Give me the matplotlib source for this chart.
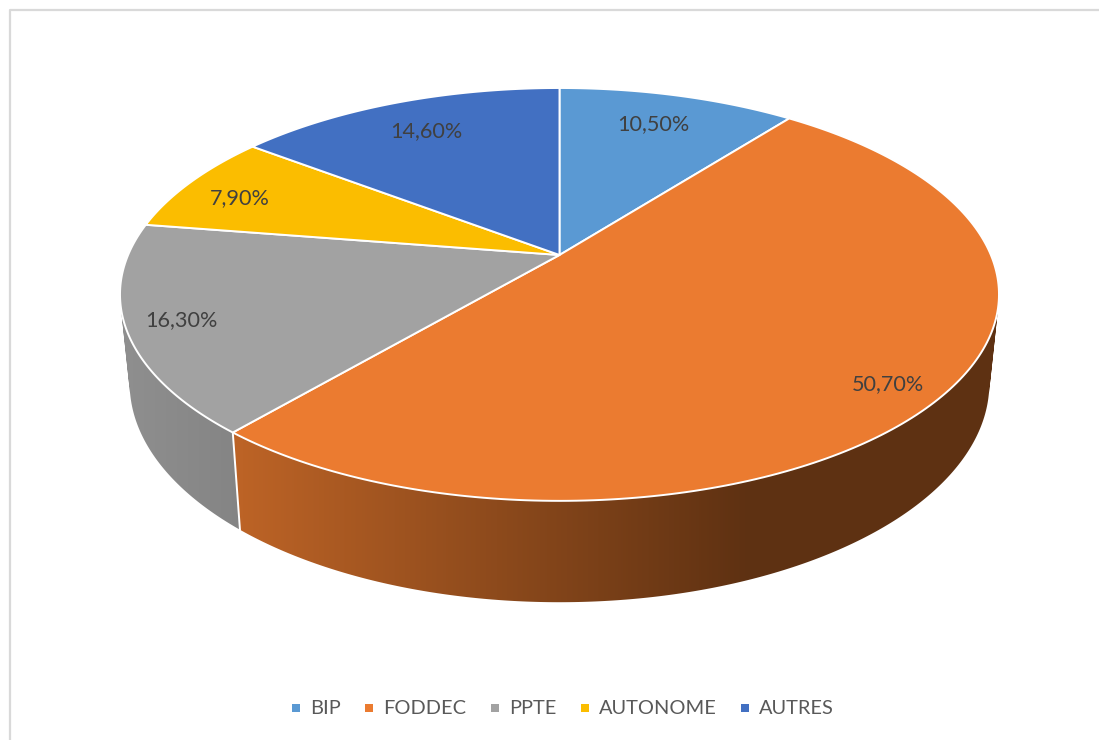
import numpy as np
import matplotlib
matplotlib.use("Agg")
from matplotlib import pyplot as plt
from matplotlib.colors import to_rgb
from matplotlib.lines import Line2D
from matplotlib.patches import PathPatch, Polygon
from matplotlib.path import Path

categories = ["BIP", "FODDEC", "PPTE", "AUTONOME", "AUTRES"]
shares = [10.5, 50.7, 16.3, 7.9, 14.6]
colors = ["#5A99D3", "#EB7B30", "#A2A2A2", "#FBBD00", "#4270C2"]
side_left = ["#3F6C95", "#BC6326", "#8F8F8F", "#B38600", "#2F5089"]
side_right = ["#3F6C95", "#5E3112", "#848484", "#B38600", "#2F5089"]
label_radius = [0.79, 0.89, 0.88, 0.84, 0.79]
label_turn = [-0.6, 1.4, 0.0, -2.2, 0.0]

plt.rcParams["font.family"] = ["Lato", "DejaVu Sans"]

# perspective of the 3d pie, in pixels
apex_x, apex_y = 559.5, 255
scale_x, scale_y, tilt = 431.4, 198.9, 0.191
depth_scale_x, depth_scale_y, depth_y = 0.978, 1.06, 341.6


def project(angle, radius=1.0):
    x = radius * np.sin(angle)
    y = radius * np.cos(angle)
    w = 1 + tilt * y
    return apex_x + scale_x * x / w, apex_y - scale_y * y / w


def project_bottom(angle):
    x, y = project(angle)
    return apex_x + depth_scale_x * (x - apex_x), depth_y + depth_scale_y * (y - apex_y)


def side_path(start, end):
    # swept side as many small quads, all wound the same way so they add up
    steps = np.linspace(start, end, int((end - start) * 120) + 2)
    parts = []
    for a0, a1 in zip(steps[:-1], steps[1:]):
        quad = np.array([project(a0), project(a1), project_bottom(a1), project_bottom(a0)])
        xs, ys = quad[:, 0], quad[:, 1]
        area = np.dot(xs, np.roll(ys, -1)) - np.dot(ys, np.roll(xs, -1))
        if area < 0:
            quad = quad[::-1]
        parts.append(Path(np.vstack([quad, quad[:1]]), closed=True))
    return Path.make_compound_path(*parts)


fig = plt.figure(figsize=(10.99, 7.40), dpi=100)
ax = fig.add_axes([0, 0, 1, 1])
ax.set_xlim(0, 1099)
ax.set_ylim(740, 0)
ax.axis("off")

# chart frame, only left and top are in the crop
ax.plot([9.5, 9.5, 1099], [740, 10, 10], color="#D9D9D9", lw=1.6, zorder=1)

edges = np.cumsum([0] + shares) / sum(shares) * 2 * np.pi
pixel_x = np.arange(1099) + 0.5

# sides first, the top face covers whatever is behind it
for i in range(len(shares)):
    if i == 1:
        t = np.clip((pixel_x - 243) / (750 - 243), 0, 1)
    else:
        t = np.clip((pixel_x - 122) / (243 - 122), 0, 1)
    left = np.array(to_rgb(side_left[i]))
    right = np.array(to_rgb(side_right[i]))
    gradient = (left + (right - left) * t[:, None])[None, :, :]
    shape = PathPatch(side_path(edges[i], edges[i + 1]), facecolor="none", edgecolor="none")
    ax.add_patch(shape)
    image = ax.imshow(gradient, extent=(0, 1099, 740, 0), aspect="auto", interpolation="nearest", zorder=2)
    image.set_clip_path(shape)
ax.set_xlim(0, 1099)
ax.set_ylim(740, 0)

# white seam between the two visible sides
seam = edges[2]
ax.plot(*zip(project(seam), project_bottom(seam)), color="white", lw=1.4, zorder=3)

for i in range(len(shares)):
    steps = np.linspace(edges[i], edges[i + 1], 200)
    outline = [(apex_x, apex_y)] + [project(a) for a in steps]
    ax.add_patch(Polygon(outline, closed=True, facecolor=colors[i], edgecolor="white",
                         linewidth=1.4, joinstyle="round", zorder=4))

for i, share in enumerate(shares):
    mid = (edges[i] + edges[i + 1]) / 2 + np.radians(label_turn[i])
    x, y = project(mid, label_radius[i])
    ax.text(x, y, f"{share:.2f}%".replace(".", ","), color="#404040", fontsize=15.6,
            ha="center", va="center", zorder=5)

handles = [Line2D([], [], linestyle="none", marker="s", markersize=5.8, markeredgewidth=0, color=c)
           for c in colors]
ax.legend(handles, categories, loc="center", bbox_to_anchor=(562 / 1099, 1 - 709 / 740),
          ncol=5, frameon=False, fontsize=14.4, labelcolor="#595959", handlelength=0.6,
          handletextpad=0.4, columnspacing=1.13, borderpad=0)

fig.savefig("out.png", dpi=100)
